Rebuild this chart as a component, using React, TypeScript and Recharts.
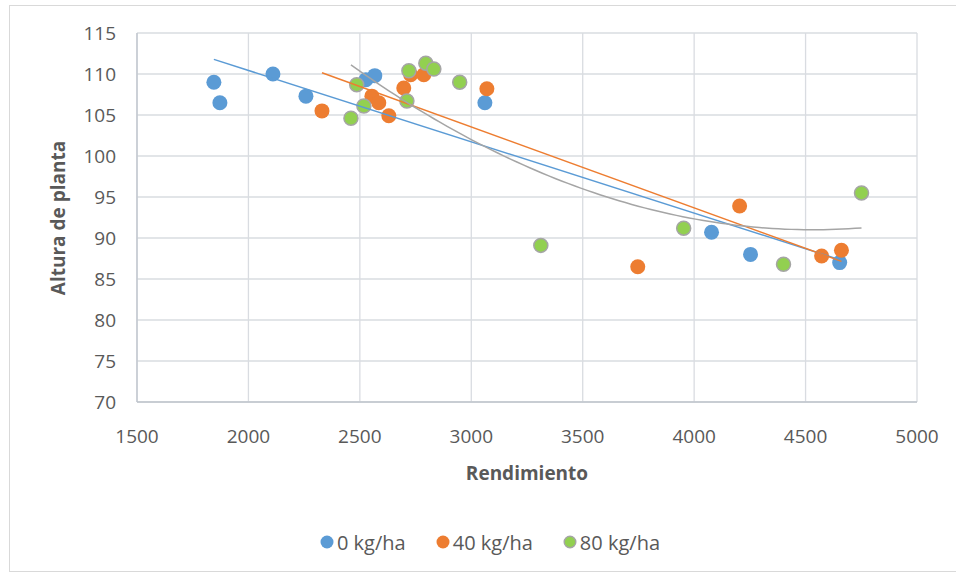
import React from 'react';
import { ScatterChart, Scatter, XAxis, YAxis, CartesianGrid } from 'recharts';

const seriesNames = ['0 kg/ha', '40 kg/ha', '80 kg/ha'];
const seriesColors = ['#5B9BD5', '#ED7D31', '#92D050'];
const trendColors = ['#5B9BD5', '#ED7D31', '#A5A5A5'];

const xTicks = [1500, 2000, 2500, 3000, 3500, 4000, 4500, 5000];
const yTicks = [70, 75, 80, 85, 90, 95, 100, 105, 110, 115];

const blueX = [1845, 1872, 2110, 2258, 2527, 2567, 3061, 4078, 4253, 4653];
const blueY = [109.0, 106.5, 110.0, 107.3, 109.3, 109.8, 106.5, 90.7, 88.0, 87.0];

const orangeX = [2330, 2554, 2585, 2630, 2697, 2728, 2787, 3070, 3747, 4204, 4572, 4661];
const orangeY = [105.5, 107.3, 106.5, 104.9, 108.3, 109.9, 109.9, 108.2, 86.5, 93.9, 87.8, 88.5];

const greenX = [2460, 2486, 2518, 2711, 2720, 2796, 2832, 2948, 3312, 3953, 4401, 4751];
const greenY = [104.6, 108.7, 106.1, 106.7, 110.4, 111.3, 110.6, 109.0, 89.1, 91.2, 86.8, 95.5];

type Pt = { x: number; y: number };

function toPoints(xs: number[], ys: number[]): Pt[] {
  return xs.map((x, i) => ({ x, y: ys[i] }));
}

function linearFit(pts: Pt[]): Pt[] {
  const n = pts.length;
  const mx = pts.reduce((s, p) => s + p.x, 0) / n;
  const my = pts.reduce((s, p) => s + p.y, 0) / n;
  let sxy = 0;
  let sxx = 0;
  pts.forEach((p) => {
    sxy += (p.x - mx) * (p.y - my);
    sxx += (p.x - mx) * (p.x - mx);
  });
  const b = sxy / sxx;
  const a = my - b * mx;
  const minX = Math.min(...pts.map((p) => p.x));
  const maxX = Math.max(...pts.map((p) => p.x));
  return [
    { x: minX, y: a + b * minX },
    { x: maxX, y: a + b * maxX },
  ];
}

function solve3(m: number[][], v: number[]): number[] {
  const a = m.map((row, i) => [...row, v[i]]);
  for (let c = 0; c < 3; c++) {
    let piv = c;
    for (let r = c + 1; r < 3; r++) if (Math.abs(a[r][c]) > Math.abs(a[piv][c])) piv = r;
    [a[c], a[piv]] = [a[piv], a[c]];
    for (let r = 0; r < 3; r++) {
      if (r === c) continue;
      const f = a[r][c] / a[c][c];
      for (let k = c; k < 4; k++) a[r][k] -= f * a[c][k];
    }
  }
  return [a[0][3] / a[0][0], a[1][3] / a[1][1], a[2][3] / a[2][2]];
}

function quadFit(pts: Pt[], steps = 80): Pt[] {
  const s = [0, 0, 0, 0, 0];
  const t = [0, 0, 0];
  pts.forEach((p) => {
    const u = p.x / 1000;
    for (let k = 0; k < 5; k++) s[k] += Math.pow(u, k);
    for (let k = 0; k < 3; k++) t[k] += p.y * Math.pow(u, k);
  });
  const [c0, c1, c2] = solve3(
    [
      [s[0], s[1], s[2]],
      [s[1], s[2], s[3]],
      [s[2], s[3], s[4]],
    ],
    t
  );
  const minX = Math.min(...pts.map((p) => p.x));
  const maxX = Math.max(...pts.map((p) => p.x));
  const out: Pt[] = [];
  for (let i = 0; i <= steps; i++) {
    const x = minX + ((maxX - minX) * i) / steps;
    const u = x / 1000;
    out.push({ x, y: c0 + c1 * u + c2 * u * u });
  }
  return out;
}

const blueData = toPoints(blueX, blueY);
const orangeData = toPoints(orangeX, orangeY);
const greenData = toPoints(greenX, greenY);

const blueTrend = linearFit(blueData);
const orangeTrend = linearFit(orangeData);
const greenTrend = quadFit(greenData);

const FONT = '"Open Sans", "Liberation Sans", sans-serif';
const TEXT = '#595959';
const GRID = '#D9DCE1';

const makeDot = (fill: string, stroke?: string) => (props: any) => {
  const { cx, cy } = props;
  if (cx == null || cy == null) return <g />;
  return (
    <circle
      cx={cx}
      cy={cy}
      r={stroke ? 7 : 7.5}
      fill={fill}
      stroke={stroke || 'none'}
      strokeWidth={stroke ? 1.5 : 0}
    />
  );
};

const noShape = () => <g />;

export default function App() {
  return (
    <div
      style={{
        position: 'absolute',
        left: 0,
        top: 0,
        width: 956,
        height: 575,
        overflow: 'hidden',
        background: '#fff',
        fontFamily: FONT,
      }}
    >
      <div
        style={{
          position: 'absolute',
          left: 9,
          top: 5,
          width: 960,
          height: 567,
          border: '1px solid #D9D9D9',
          boxSizing: 'border-box',
        }}
      />
      <div style={{ position: 'absolute', left: 0, top: 0 }}>
        <ScatterChart
          width={956}
          height={575}
          margin={{ top: 33, right: 39, bottom: 113, left: 57 }}
        >
          <CartesianGrid stroke={GRID} strokeWidth={1.3} />
          <XAxis
            type="number"
            dataKey="x"
            domain={[1500, 5000]}
            ticks={xTicks}
            allowDataOverflow
            height={60}
            tickLine={false}
            tickSize={0}
            tickMargin={28}
            axisLine={{ stroke: '#BFC4CC', strokeWidth: 1.3 }}
            tick={{ fill: TEXT, fontSize: 19, fontFamily: FONT }}
            label={{
              content: () => (
                <text
                  x={527}
                  y={473}
                  textAnchor="middle"
                  dominantBaseline="central"
                  fill={TEXT}
                  fontSize={19}
                  fontWeight="bold"
                  fontFamily={FONT}
                >
                  Rendimiento
                </text>
              ),
            }}
          />
          <YAxis
            type="number"
            dataKey="y"
            domain={[70, 115]}
            ticks={yTicks}
            allowDataOverflow
            width={80}
            tickLine={false}
            tickSize={0}
            tickMargin={21}
            axisLine={{ stroke: '#BFC4CC', strokeWidth: 1.3 }}
            tick={{ fill: TEXT, fontSize: 19, fontFamily: FONT }}
            label={{
              content: () => (
                <text
                  x={58}
                  y={218}
                  transform="rotate(-90 58 218)"
                  textAnchor="middle"
                  dominantBaseline="central"
                  fill={TEXT}
                  fontSize={19}
                  fontWeight="bold"
                  fontFamily={FONT}
                >
                  Altura de planta
                </text>
              ),
            }}
          />
          <Scatter
            name={seriesNames[0]}
            data={blueData}
            shape={makeDot(seriesColors[0])}
            isAnimationActive={false}
          />
          <Scatter
            name={seriesNames[1]}
            data={orangeData}
            shape={makeDot(seriesColors[1])}
            isAnimationActive={false}
          />
          <Scatter
            name={seriesNames[2]}
            data={greenData}
            shape={makeDot(seriesColors[2], '#A5A5A5')}
            isAnimationActive={false}
          />
          <Scatter
            data={blueTrend}
            line={{ stroke: trendColors[0], strokeWidth: 1.5 }}
            shape={noShape}
            legendType="none"
            isAnimationActive={false}
          />
          <Scatter
            data={orangeTrend}
            line={{ stroke: trendColors[1], strokeWidth: 1.5 }}
            shape={noShape}
            legendType="none"
            isAnimationActive={false}
          />
          <Scatter
            data={greenTrend}
            line={{ stroke: trendColors[2], strokeWidth: 1.5 }}
            shape={noShape}
            legendType="none"
            isAnimationActive={false}
          />
        </ScatterChart>
      </div>
      <div
        style={{
          position: 'absolute',
          left: 0,
          top: 528,
          width: 980,
          display: 'flex',
          justifyContent: 'center',
          alignItems: 'center',
          height: 28,
          color: TEXT,
          fontSize: 20,
          fontFamily: FONT,
        }}
      >
        {seriesNames.map((name, i) => (
          <div
            key={name}
            style={{ display: 'flex', alignItems: 'center', margin: '0 15px' }}
          >
            <svg width={14} height={14} style={{ marginRight: 3 }}>
              <circle
                cx={7}
                cy={7}
                r={i === 2 ? 5.8 : 6.5}
                fill={seriesColors[i]}
                stroke={i === 2 ? '#A5A5A5' : 'none'}
                strokeWidth={i === 2 ? 1.4 : 0}
              />
            </svg>
            <span>{name}</span>
          </div>
        ))}
      </div>
    </div>
  );
}
